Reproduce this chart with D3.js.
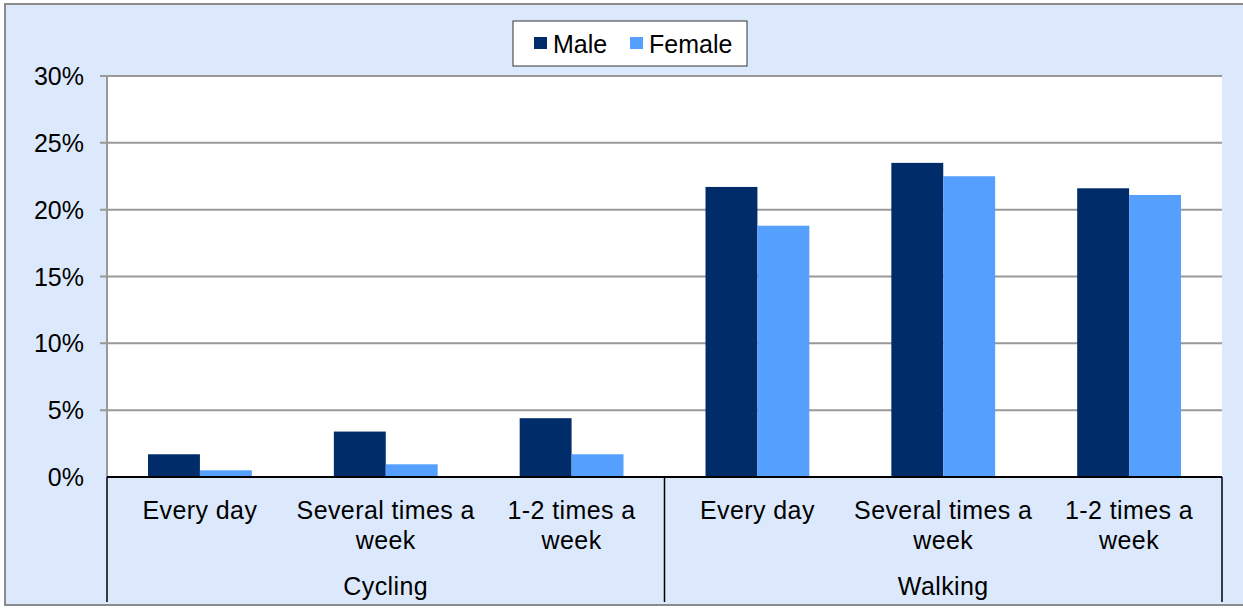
<!DOCTYPE html>
<html>
<head>
<meta charset="utf-8">
<script src="https://cdn.jsdelivr.net/npm/d3@7"></script>
<style>
  body { margin: 0; background: #fff; }
  svg { display: block; font-family: "Liberation Sans", Arial, sans-serif; }
</style>
</head>
<body>
<svg id="chart" width="1243" height="609"></svg>
<script>
// chart data
const groups = ["Cycling", "Walking"];
const frequencies = ["Every day", "Several times a week", "1-2 times a week"];
const seriesNames = ["Male", "Female"];
const maleValues = [1.7, 3.4, 4.4, 21.7, 23.5, 21.6];
const femaleValues = [0.5, 0.95, 1.7, 18.8, 22.5, 21.1];
const yTicks = [0, 5, 10, 15, 20, 25, 30];
const colors = ["#002d69", "#559ffe"];

const svg = d3.select("#chart");
const W = 1243, H = 609;
const margin = { left: 107, right: 1222, top: 76, bottom: 477 };
const fontSize = 25;

// outer background and border
svg.append("rect").attr("x", 0).attr("y", 0).attr("width", W).attr("height", H).attr("fill", "#fff");
svg.append("rect")
  .attr("x", 5).attr("y", 4).attr("width", W - 4).attr("height", 601)
  .attr("fill", "#dce9fc").attr("stroke", "#8c8c8c").attr("stroke-width", 2);

// flat list of categories
const cats = [];
groups.forEach(g => frequencies.forEach(f => cats.push(g + "|" + f)));

const x = d3.scaleBand().domain(cats).range([margin.left, margin.right]).paddingInner(0).paddingOuter(0);
const xInner = d3.scaleBand().domain(seriesNames).range([0, x.bandwidth()]).paddingInner(0).paddingOuter(0.79);
const y = d3.scaleLinear().domain([0, 30]).range([margin.bottom, margin.top]);

// plot area
svg.append("rect")
  .attr("x", margin.left).attr("y", margin.top)
  .attr("width", margin.right - margin.left).attr("height", margin.bottom - margin.top)
  .attr("fill", "#fff");

// gridlines
svg.append("g").selectAll("line").data(yTicks.filter(d => d > 0)).join("line")
  .attr("x1", margin.left - 7).attr("x2", margin.right)
  .attr("y1", d => y(d)).attr("y2", d => y(d))
  .attr("stroke", "#999").attr("stroke-width", 2);

// y axis line
svg.append("line")
  .attr("x1", margin.left).attr("x2", margin.left)
  .attr("y1", margin.top).attr("y2", margin.bottom)
  .attr("stroke", "#999").attr("stroke-width", 2);

// y tick labels
svg.append("g").selectAll("text").data(yTicks).join("text")
  .attr("x", margin.left - 23).attr("y", d => y(d) + 9)
  .attr("text-anchor", "end").attr("font-size", fontSize).attr("fill", "#000")
  .text(d => d + "%");

// bars
const rows = cats.map((c, i) => ({ cat: c, values: [maleValues[i], femaleValues[i]] }));
const barG = svg.append("g").selectAll("g").data(rows).join("g")
  .attr("transform", d => `translate(${x(d.cat)},0)`);
barG.selectAll("rect").data(d => d.values.map((v, j) => ({ name: seriesNames[j], v: v, j: j }))).join("rect")
  .attr("x", d => xInner(d.name))
  .attr("width", xInner.bandwidth())
  .attr("y", d => y(d.v))
  .attr("height", d => y(0) - y(d.v))
  .attr("fill", d => colors[d.j]);

// x axis baseline
svg.append("line")
  .attr("x1", margin.left).attr("x2", margin.right)
  .attr("y1", y(0)).attr("y2", y(0))
  .attr("stroke", "#000").attr("stroke-width", 2);

// group separators
const sepX = [margin.left, x(groups[1] + "|" + frequencies[0]), margin.right];
svg.append("g").selectAll("line").data(sepX).join("line")
  .attr("x1", d => d).attr("x2", d => d)
  .attr("y1", y(0)).attr("y2", 602)
  .attr("stroke", "#000").attr("stroke-width", 1.5);

// category labels (wrapped like the original)
const wrapLines = {
  "Every day": ["Every day"],
  "Several times a week": ["Several times a", "week"],
  "1-2 times a week": ["1-2 times a", "week"]
};
const catLabels = svg.append("g").selectAll("text").data(cats).join("text")
  .attr("x", d => x(d) + x.bandwidth() / 2)
  .attr("y", 519)
  .attr("text-anchor", "middle").attr("font-size", fontSize).attr("fill", "#000")
  .attr("letter-spacing", 0.4);
catLabels.selectAll("tspan").data(d => wrapLines[d.split("|")[1]]).join("tspan")
  .attr("x", function() { return d3.select(this.parentNode).attr("x"); })
  .attr("dy", (d, i) => i === 0 ? 0 : 30)
  .text(d => d);

// group labels
svg.append("g").selectAll("text").data(groups).join("text")
  .attr("x", g => {
    const a = x(g + "|" + frequencies[0]);
    const b = x(g + "|" + frequencies[frequencies.length - 1]) + x.bandwidth();
    return (a + b) / 2;
  })
  .attr("y", 595)
  .attr("text-anchor", "middle").attr("font-size", fontSize).attr("fill", "#000")
  .attr("letter-spacing", 0.4)
  .text(g => g);

// legend
const legend = svg.append("g");
legend.append("rect")
  .attr("x", 513).attr("y", 21).attr("width", 234).attr("height", 45)
  .attr("fill", "#fff").attr("stroke", "#333").attr("stroke-width", 1);
const legX = [534, 630];
seriesNames.forEach((name, i) => {
  legend.append("rect")
    .attr("x", legX[i]).attr("y", 37).attr("width", 13).attr("height", 12)
    .attr("fill", colors[i]);
  legend.append("text")
    .attr("x", legX[i] + 19).attr("y", 53)
    .attr("font-size", fontSize).attr("fill", "#000")
    .text(name);
});
</script>
</body>
</html>
